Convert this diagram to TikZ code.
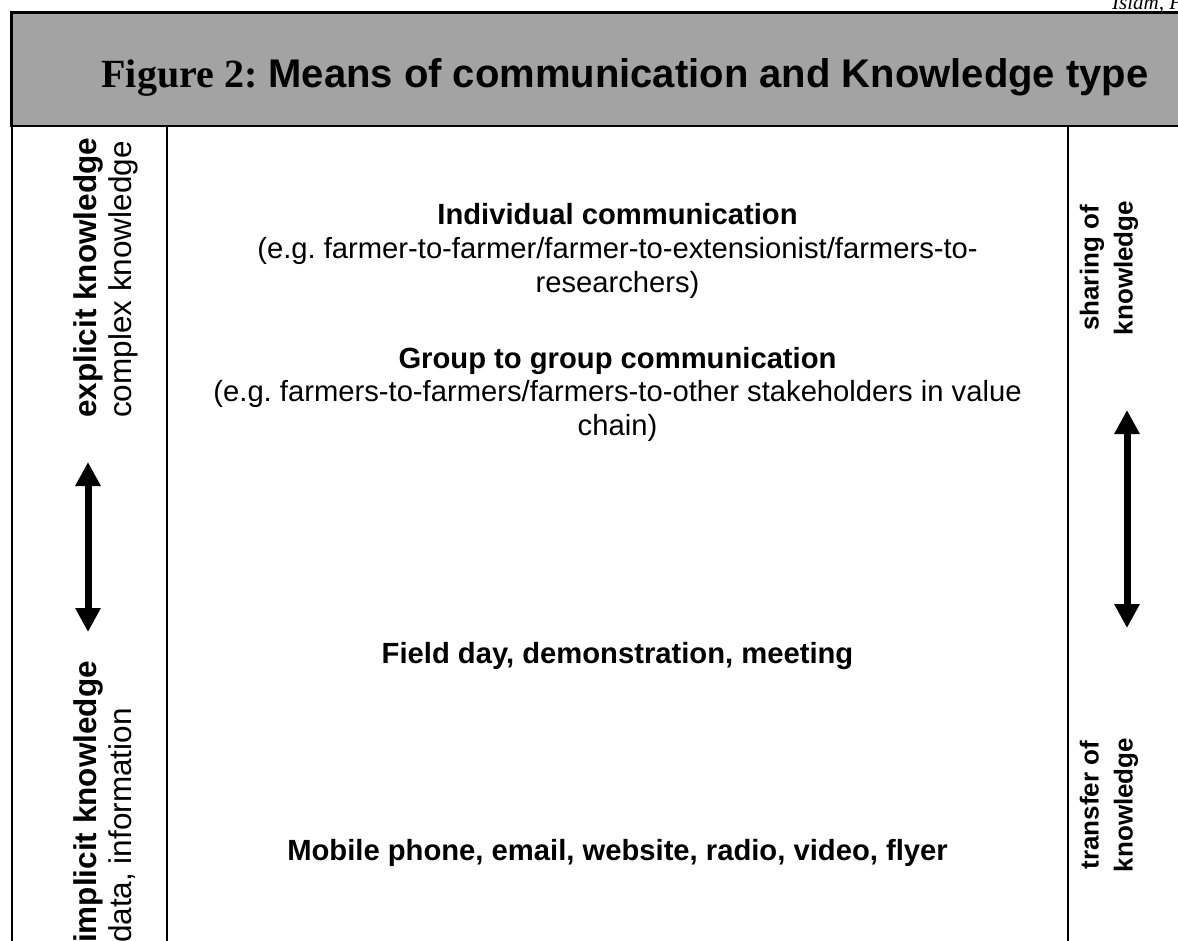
\documentclass[tikz,border=0pt]{standalone}
\usepackage{fontspec}
\setmainfont{Liberation Sans}
\newfontfamily\timesfont{Liberation Serif}
\usetikzlibrary{arrows.meta}
\definecolor{hdrgray}{HTML}{A3A3A3}
\frenchspacing
\tikzset{
  body/.style={font=\fontsize{29.2}{33.6}\selectfont, align=center, inner sep=0pt, anchor=base},
  sideb/.style={font=\fontsize{31.5}{36}\selectfont\bfseries, inner sep=0pt, rotate=90, anchor=base west},
  sider/.style={font=\fontsize{31.5}{36}\selectfont, inner sep=0pt, rotate=90, anchor=base west},
  rside/.style={font=\fontsize{26}{34}\selectfont\bfseries, inner sep=0pt, rotate=90, align=center},
  dbl/.style={line width=7pt, {Triangle[width=24pt,length=24pt]}-{Triangle[width=24pt,length=24pt]}},
  rule/.style={line width=2pt},
}
\begin{document}
\begin{tikzpicture}[x=1pt,y=-1pt]
\useasboundingbox (0,0) rectangle (1178,940);
\begin{scope}
\clip (0,0) rectangle (1178,940);
% running head
\node[anchor=base west, inner sep=0pt, font=\timesfont\itshape\fontsize{21}{25}\selectfont] (auth) at (1112,9) {Islam, Fa};
% header
\draw[line width=2.5pt, fill=hdrgray] (11.5,12.7) rectangle (1200,126);
\node[anchor=base, inner sep=0pt, font=\bfseries\fontsize{40}{46}\selectfont] (title) at (625,87)
  {{\timesfont Figure 2:} Means of communication and Knowledge type};
% table rules
\coordinate (l1) at (11.5,126); \coordinate (l2) at (11.5,960);
\coordinate (m1) at (167,126); \coordinate (m2) at (167,960);
\coordinate (r1) at (1068,126); \coordinate (r2) at (1068,960);
\draw[rule] (l1) -- (l2);
\draw[rule] (m1) -- (m2);
\draw[rule] (r1) -- (r2);
% centre column (base anchor = baseline of last line)
\node[body] (ind) at (617.5,292) {\textbf{Individual communication}\\(e.g. farmer-to-farmer/farmer-to-extensionist/farmers-to-\\researchers)};
\node[body] (grp) at (617.5,435.5) {\textbf{Group to group communication}\\(e.g. farmers-to-farmers/farmers-to-other stakeholders in value\\chain)};
\node[body] (fld) at (617.5,663.5) {\textbf{Field day, demonstration, meeting}};
\node[body] (mob) at (617.5,860) {\textbf{Mobile phone, email, website, radio, video, flyer}};
% left column
\node[sideb] (expl) at (96,418) {explicit knowledge};
\node[sider] (cplx) at (131,418) {complex knowledge};
\node[sideb] (impl) at (96,943) {implicit knowledge};
\node[sider] (data) at (131,943) {data, information};
\coordinate (la1) at (88,462); \coordinate (la2) at (88,632);
\draw[dbl] (la1) -- (la2);
% right column
\node[rside] (shr) at (1109,268) {sharing of\\knowledge};
\node[rside] (trf) at (1109,805) {transfer of\\knowledge};
\coordinate (ra1) at (1127,410); \coordinate (ra2) at (1127,628);
\draw[dbl] (ra1) -- (ra2);
\end{scope}
\end{tikzpicture}
\end{document}
